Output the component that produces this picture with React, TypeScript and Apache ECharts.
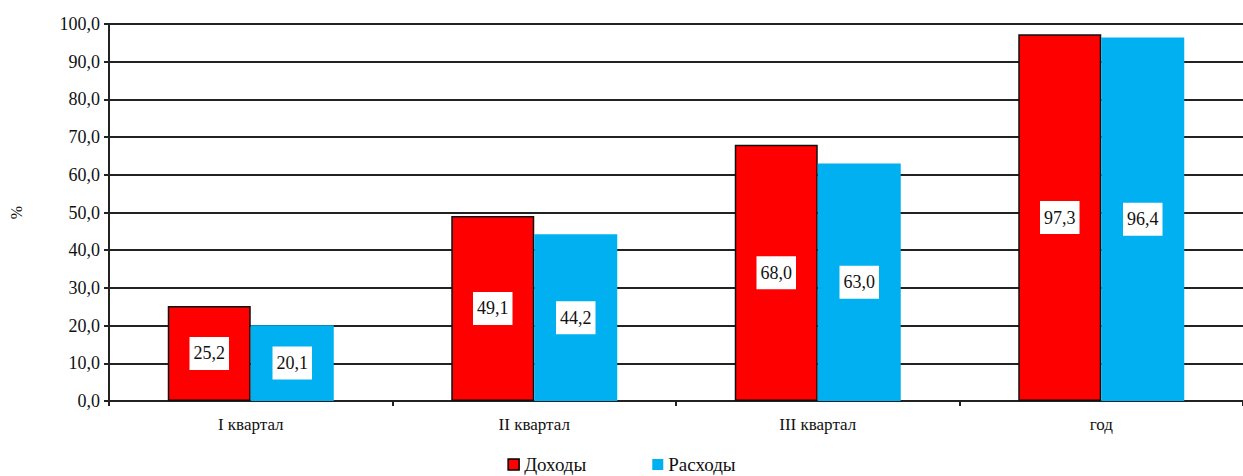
import React, { useEffect, useRef } from "react";
import * as echarts from "echarts";

const categories = ["I квартал", "II квартал", "III квартал", "год"];
const incomeValues = [25.2, 49.1, 68.0, 97.3];
const expenseValues = [20.1, 44.2, 63.0, 96.4];
const seriesNames = ["Доходы", "Расходы"];

const fmt = (v: number) => v.toFixed(1).replace(".", ",");
const FONT = "serif";

export default function App() {
  const ref = useRef<HTMLDivElement>(null);
  useEffect(() => {
    document.body.style.margin = "0";
    const chart = echarts.init(ref.current!, undefined, { renderer: "svg" });
    const label = {
      show: true,
      position: "inside",
      formatter: (p: any) => fmt(p.value),
      backgroundColor: "#ffffff",
      color: "#111111",
      fontFamily: FONT,
      fontSize: 18,
      padding: [8, 4, 7, 4],
    };
    chart.setOption({
      animation: false,
      textStyle: { fontFamily: FONT, fontSize: 18 },
      grid: { left: 106, width: 1145, top: 24, bottom: 75, containLabel: false },
      legend: {
        bottom: -3,
        left: "center",
        itemWidth: 11,
        itemHeight: 11,
        itemGap: 66,
        icon: "rect",
        textStyle: { fontFamily: FONT, fontSize: 19, color: "#111111" },
        data: [
          { name: seriesNames[0], itemStyle: { color: "#ff0000", borderColor: "#000000", borderWidth: 1.5 } },
          { name: seriesNames[1], itemStyle: { color: "#00b0f0", borderWidth: 0 } },
        ],
      },
      xAxis: {
        type: "category",
        data: categories,
        axisLine: { lineStyle: { color: "#222222", width: 2 } },
        axisTick: { show: true, length: 5, lineStyle: { color: "#222222", width: 2 } },
        axisLabel: { color: "#111111", fontFamily: FONT, fontSize: 17, margin: 15 },
      },
      yAxis: {
        type: "value",
        min: 0,
        max: 100,
        interval: 10,
        name: "%",
        nameLocation: "middle",
        nameGap: 85,
        nameRotate: 90,
        nameTextStyle: { color: "#111111", fontFamily: FONT, fontSize: 16 },
        axisLine: { show: true, lineStyle: { color: "#222222", width: 2 } },
        axisTick: { show: true, length: 5, lineStyle: { color: "#222222", width: 2 } },
        axisLabel: { color: "#111111", fontFamily: FONT, fontSize: 18, margin: 9, formatter: (v: number) => fmt(v) },
        splitLine: { show: true, lineStyle: { color: "#222222", width: 2 } },
      },
      series: [
        {
          name: seriesNames[0],
          type: "bar",
          data: incomeValues,
          barWidth: 83,
          barGap: "0%",
          itemStyle: { color: "#ff0000", borderColor: "#111111", borderWidth: 1.5 },
          label,
        },
        {
          name: seriesNames[1],
          type: "bar",
          data: expenseValues,
          barWidth: 83,
          barGap: "0%",
          itemStyle: { color: "#00b0f0" },
          label,
        },
      ],
    });
    return () => chart.dispose();
  }, []);
  return <div ref={ref} style={{ width: 1243, height: 476 }} />;
}
